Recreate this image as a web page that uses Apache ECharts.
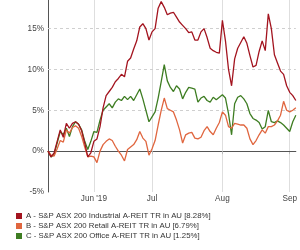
<!DOCTYPE html>
<html><head><meta charset="utf-8">
<script src="https://cdn.jsdelivr.net/npm/echarts@6/dist/echarts.min.js"></script>
<style>html,body{margin:0;padding:0;background:#fff}#c{width:300px;height:250px}</style>
</head><body><div id="c"></div>
<script>
// Trading-day index categories (mid-May 2019 to early Sep 2019)
const dayCount = 82;
const monthLabels = {15: "Jun '19", 34: "Jul", 57: "Aug", 79: "Sep"};
const yTicks = [-5, 0, 5, 10, 15];
const seriesNames = [
  "A - S&P ASX 200 Industrial A-REIT TR in AU [8.28%]",
  "B - S&P ASX 200 Retail A-REIT TR in AU [6.79%]",
  "C - S&P ASX 200 Office A-REIT TR in AU [1.25%]"
];
const seriesA = [0,-0.7,-0.2,1.2,2.6,1.7,3.4,2.8,3.4,3.6,3.3,2.5,1.0,-0.7,-0.2,1.2,1.5,3.0,5.3,6.8,
  7.3,7.8,8.5,8.9,9.4,9.1,11.0,11.4,12.5,13.5,15.2,15.6,15.0,13.6,14.6,15.0,17.5,18.3,17.6,16.7,
  16.9,17.0,16.4,15.8,15.4,15.0,14.5,14.6,13.6,13.6,14.6,15.0,13.9,12.6,12.3,12.1,12.0,16.0,13.5,10.0,
  8.0,11.3,12.6,13.3,14.0,13.2,11.7,10.3,10.5,12.2,13.5,12.3,16.8,15.0,11.8,10.8,9.8,9.4,8.0,7.2,
  6.8,6.2];
const seriesB = [0,-0.5,-0.6,0.3,1.3,1.1,2.6,2.2,2.9,3.1,2.8,1.8,0.5,-0.7,-0.6,-0.7,-1.4,0.0,0.8,1.2,
  1.5,1.3,0.6,0.0,-0.5,-1.2,0.2,0.5,0.8,1.4,2.4,1.6,1.2,-0.5,0.3,1.3,3.2,5.0,6.5,5.2,
  5.0,4.8,3.8,2.6,1.0,2.0,2.2,2.3,1.6,1.5,1.7,2.5,3.0,2.4,2.0,2.8,3.5,4.8,4.4,3.0,
  2.8,3.4,3.3,3.2,3.2,2.8,1.5,0.8,1.3,2.0,2.6,2.2,3.0,3.0,3.2,3.7,4.4,6.1,5.0,4.8,
  5.0,5.3];
const seriesC = [0,-0.7,-0.4,1.0,2.4,2.0,2.8,1.8,3.0,3.6,3.3,2.6,1.2,0.2,1.2,2.4,2.3,3.8,5.0,5.4,
  5.8,5.3,6.0,6.4,6.2,6.7,6.3,6.7,6.2,6.9,7.6,6.4,5.0,3.6,4.2,4.8,6.5,8.5,10.6,8.6,
  7.8,7.3,8.0,7.6,6.4,7.2,7.8,7.7,7.6,6.0,6.5,6.7,6.2,6.0,6.6,6.3,6.6,6.9,6.5,4.6,
  2.0,5.8,6.6,6.8,6.4,5.8,4.6,4.0,3.8,3.5,2.7,3.0,5.0,3.6,3.5,3.7,3.5,3.2,2.8,2.4,
  3.6,4.4];
const colors = ['#a3141f', '#e0663f', '#3e7d22'];

const cats = [];
for (let i = 0; i < dayCount; i++) cats.push(String(i));
const labelIdx = Object.keys(monthLabels).map(Number);

const gridLines = yTicks.filter(v => v > -5).map(v => ({
  yAxis: v,
  lineStyle: v === 0 ? {color: '#555', type: [4, 3], width: 1} : {color: '#cfcfcf', type: [3, 3], width: 1}
}));

const chart = echarts.init(document.getElementById('c'), null, {renderer: 'canvas'});
const mk = (name, data, color, extra) => Object.assign({
  name, type: 'line', data, symbol: 'none', animation: false,
  lineStyle: {color, width: 1.3}, itemStyle: {color}
}, extra || {});

chart.setOption({
  animation: false,
  textStyle: {fontFamily: 'Liberation Sans, Arial, sans-serif'},
  grid: {left: 48, right: 0, top: 0, bottom: 58, containLabel: false},
  legend: {
    orient: 'vertical', left: 16, top: 211, bottom: 0, padding: 0, itemWidth: 6, itemHeight: 6, itemGap: 0,
    icon: 'rect', selectedMode: false,
    textStyle: {fontSize: 7.8, color: '#333', lineHeight: 10, padding: [0, 0, 0, -1]},
    data: seriesNames
  },
  xAxis: {
    type: 'category', data: cats, boundaryGap: false,
    axisLine: {show: true, lineStyle: {color: '#555', width: 1}},
    axisTick: {show: true, length: 3, interval: (i) => labelIdx.includes(i), lineStyle: {color: '#bbb'}},
    axisLabel: {
      interval: (i) => labelIdx.includes(i), formatter: (v, i) => monthLabels[i] || '',
      fontSize: 8.2, color: '#444', margin: 3
    },
    splitLine: {show: true, interval: (i) => labelIdx.includes(i), lineStyle: {color: '#dedede', width: 1}}
  },
  yAxis: {
    type: 'value', min: -5, max: 18.5, interval: 5,
    axisLine: {show: true, lineStyle: {color: '#555', width: 1}},
    axisTick: {show: false},
    splitLine: {show: false},
    axisLabel: {
      formatter: (v) => yTicks.includes(v) ? v + '%' : '',
      fontSize: 8.2, color: '#444', margin: 4
    }
  },
  series: [
    mk(seriesNames[0], seriesA, colors[0], {z: 4}),
    mk(seriesNames[1], seriesB, colors[1], {z: 3}),
    mk(seriesNames[2], seriesC, colors[2], {z: 2, markLine: {silent: true, symbol: 'none', label: {show: false}, data: gridLines, z: 1}})
  ]
});
</script></body></html>
